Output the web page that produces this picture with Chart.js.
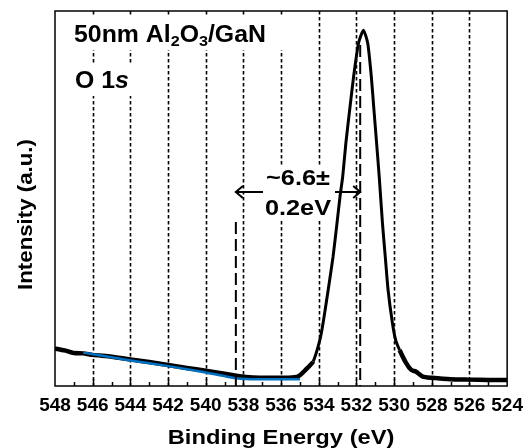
<!DOCTYPE html>
<html>
<head>
<meta charset="utf-8">
<script src="https://cdn.jsdelivr.net/npm/chart.js@4/dist/chart.umd.min.js"></script>
<style>
body { margin:0; background:#fff; }
#wrap { width:531px; height:448px; }
</style>
</head>
<body>
<div id="wrap"><canvas id="chart" width="531" height="448"></canvas></div>
<script>
// O 1s spectrum (binding energy in eV, intensity in a.u.)
var energy = [548.0, 547.5, 547.0, 546.5, 546.0, 545.0, 544.0, 543.0, 542.0, 541.0, 540.0, 539.0,
  538.3, 537.5, 536.5, 535.6, 535.1, 534.7, 534.3, 533.94, 533.77, 533.5, 533.24, 533.03,
  532.86, 532.73, 532.56, 532.36, 532.15, 531.89, 531.63, 531.4, 531.21, 531.07, 530.93,
  530.79, 530.62, 530.47, 530.32, 530.09, 529.92, 529.71, 529.36, 529.09, 528.83, 528.48,
  528.0, 527.0, 526.0, 525.0, 524.0];
var intensity = [100, 95, 88, 87, 83, 78, 71, 64, 56, 48, 41, 33,
  27, 23, 22, 22, 25, 43, 65, 123, 168, 256, 345, 435,
  510, 558, 648, 736, 825, 914, 949, 914, 825, 736, 648,
  558, 435, 345, 256, 168, 123, 96, 61, 43, 38, 25,
  22, 18, 17, 16, 16];

// blue background line
var bgEnergy = [546.5, 544.0, 542.0, 540.0, 538.3, 537.0, 535.0];
var bgIntensity = [89, 68, 53, 36, 20, 18, 18];

var xTicks = [548, 546, 544, 542, 540, 538, 536, 534, 532, 530, 528, 526, 524];
var peakLeft = 538.4, peakRight = 531.8;

function pts(xs, ys) {
  var out = [];
  for (var i = 0; i < xs.length; i++) out.push({x: xs[i], y: ys[i]});
  return out;
}

function stretchText(ctx, s, x, y, font, align, sx) {
  ctx.save();
  ctx.translate(x, y);
  ctx.scale(sx, 1);
  ctx.font = font;
  ctx.textAlign = align;
  ctx.textBaseline = 'alphabetic';
  ctx.fillText(s, 0, 0);
  ctx.restore();
}

var FONT = '"Liberation Sans", Arial, sans-serif';

var deco = {
  id: 'deco',
  beforeDatasetsDraw: function(chart) {
    var ctx = chart.ctx, a = chart.chartArea, xs = chart.scales.x;
    ctx.save();
    ctx.strokeStyle = '#000';
    // dotted grid lines
    ctx.lineWidth = 1.6;
    ctx.setLineDash([3.5, 2.5]);
    xTicks.forEach(function(v) {
      if (v == 548 || v == 524) return;
      var px = Math.round(xs.getPixelForValue(v)) + 0.5;
      ctx.beginPath(); ctx.moveTo(px, a.top); ctx.lineTo(px, a.bottom); ctx.stroke();
    });
    ctx.setLineDash([]);
    // inner ticks
    ctx.lineWidth = 1.5;
    for (var v = 525; v < 548; v++) {
      var px = Math.round(xs.getPixelForValue(v)) + 0.5;
      var len = (v % 2 == 0) ? 7 : 4;
      ctx.beginPath(); ctx.moveTo(px, a.bottom); ctx.lineTo(px, a.bottom - len); ctx.stroke();
    }
    ctx.restore();
  },
  afterDatasetsDraw: function(chart) {
    var ctx = chart.ctx, a = chart.chartArea, xs = chart.scales.x;
    ctx.save();
    ctx.strokeStyle = '#000';
    ctx.fillStyle = '#000';

    // long dashed markers
    var xl = xs.getPixelForValue(peakLeft), xr = xs.getPixelForValue(peakRight);
    ctx.lineWidth = 2;
    ctx.setLineDash([12, 5]);
    ctx.beginPath(); ctx.moveTo(xl, 222); ctx.lineTo(xl, a.bottom); ctx.stroke();
    ctx.beginPath(); ctx.moveTo(xr, 45); ctx.lineTo(xr, a.bottom); ctx.stroke();
    ctx.setLineDash([]);

    // double arrow
    var ay = 192;
    ctx.lineWidth = 2;
    ctx.beginPath(); ctx.moveTo(xl, ay); ctx.lineTo(xr, ay); ctx.stroke();
    ctx.beginPath();
    ctx.moveTo(xl + 7, ay - 6); ctx.lineTo(xl, ay); ctx.lineTo(xl + 7, ay + 6);
    ctx.moveTo(xr - 7, ay - 6); ctx.lineTo(xr, ay); ctx.lineTo(xr - 7, ay + 6);
    ctx.stroke();

    // white boxes behind labels
    ctx.fillStyle = '#fff';
    ctx.fillRect(263, 166, 72, 55);
    ctx.fillRect(70, 17, 217, 33);
    ctx.fillRect(70, 63, 68, 33);

    ctx.fillStyle = '#000';
    var f22 = 'bold 22px ' + FONT;
    stretchText(ctx, '~6.6\u00b1', 298, 185, f22, 'center', 1.15);
    stretchText(ctx, '0.2eV', 298, 215, f22, 'center', 1.15);

    // sample label with subscripts
    var parts = [['50nm Al', 0], ['2', 1], ['O', 0], ['3', 1], ['/GaN', 0]];
    var x = 74, sx = 1.08;
    parts.forEach(function(p) {
      var font = p[1] ? 'bold 15px ' + FONT : 'bold 23px ' + FONT;
      ctx.font = font;
      var w = ctx.measureText(p[0]).width * sx;
      stretchText(ctx, p[0], x, p[1] ? 46 : 42, font, 'left', sx);
      x += w;
    });
    ctx.font = 'bold 23px ' + FONT;
    var w1 = ctx.measureText('O 1').width * sx;
    stretchText(ctx, 'O 1', 75, 88, 'bold 23px ' + FONT, 'left', sx);
    stretchText(ctx, 's', 75 + w1, 88, 'italic bold 23px ' + FONT, 'left', sx);

    // axis titles
    stretchText(ctx, 'Binding Energy (eV)', (a.left + a.right) / 2, 444, 'bold 21px ' + FONT, 'center', 1.13);
    ctx.save();
    ctx.translate(32, (a.top + a.bottom) / 2 + 16);
    ctx.rotate(-Math.PI / 2);
    stretchText(ctx, 'Intensity (a.u.)', 0, 0, 'bold 21px ' + FONT, 'center', 1.06);
    ctx.restore();

    // frame
    ctx.strokeStyle = '#000';
    ctx.lineWidth = 1.5;
    ctx.strokeRect(a.left, a.top, a.right - a.left, a.bottom - a.top);
    ctx.restore();
  }
};

var ctx = document.getElementById('chart').getContext('2d');
var chart = new Chart(ctx, {
  type: 'line',
  data: {
    datasets: [{
      label: 'background',
      data: pts(bgEnergy, bgIntensity),
      borderColor: '#0070C0',
      borderWidth: 2.5,
      pointRadius: 0,
      tension: 0.3,
      fill: false
    }, {
      label: 'O 1s',
      data: pts(energy, intensity),
      borderColor: '#000',
      borderWidth: 3,
      pointRadius: 0,
      tension: 0.2,
      fill: false,
      segment: {
        // the noisy flat parts look thicker in the figure
        borderWidth: function(c) { return (c.p0.parsed.y < 120 && c.p1.parsed.y < 120) ? 4.5 : 3; }
      }
    }]
  },
  options: {
    responsive: false,
    animation: false,
    layout: { padding: { left: 55, right: 19, top: 11, bottom: 0 } },
    plugins: { legend: { display: false }, tooltip: { enabled: false } },
    scales: {
      x: {
        type: 'linear',
        reverse: true,
        min: 524,
        max: 548,
        afterBuildTicks: function(scale) {
          scale.ticks = xTicks.map(function(v) { return {value: v}; });
        },
        grid: { display: false, drawTicks: false },
        border: { display: false },
        ticks: {
          color: '#000',
          padding: 8,
          maxRotation: 0,
          autoSkip: false,
          font: { family: FONT, size: 19, weight: 'bold' }
        },
        afterFit: function(scale) { scale.height = 62; }
      },
      y: {
        display: false,
        min: 0,
        max: 1000
      }
    }
  },
  plugins: [deco]
});
</script>
</body>
</html>
